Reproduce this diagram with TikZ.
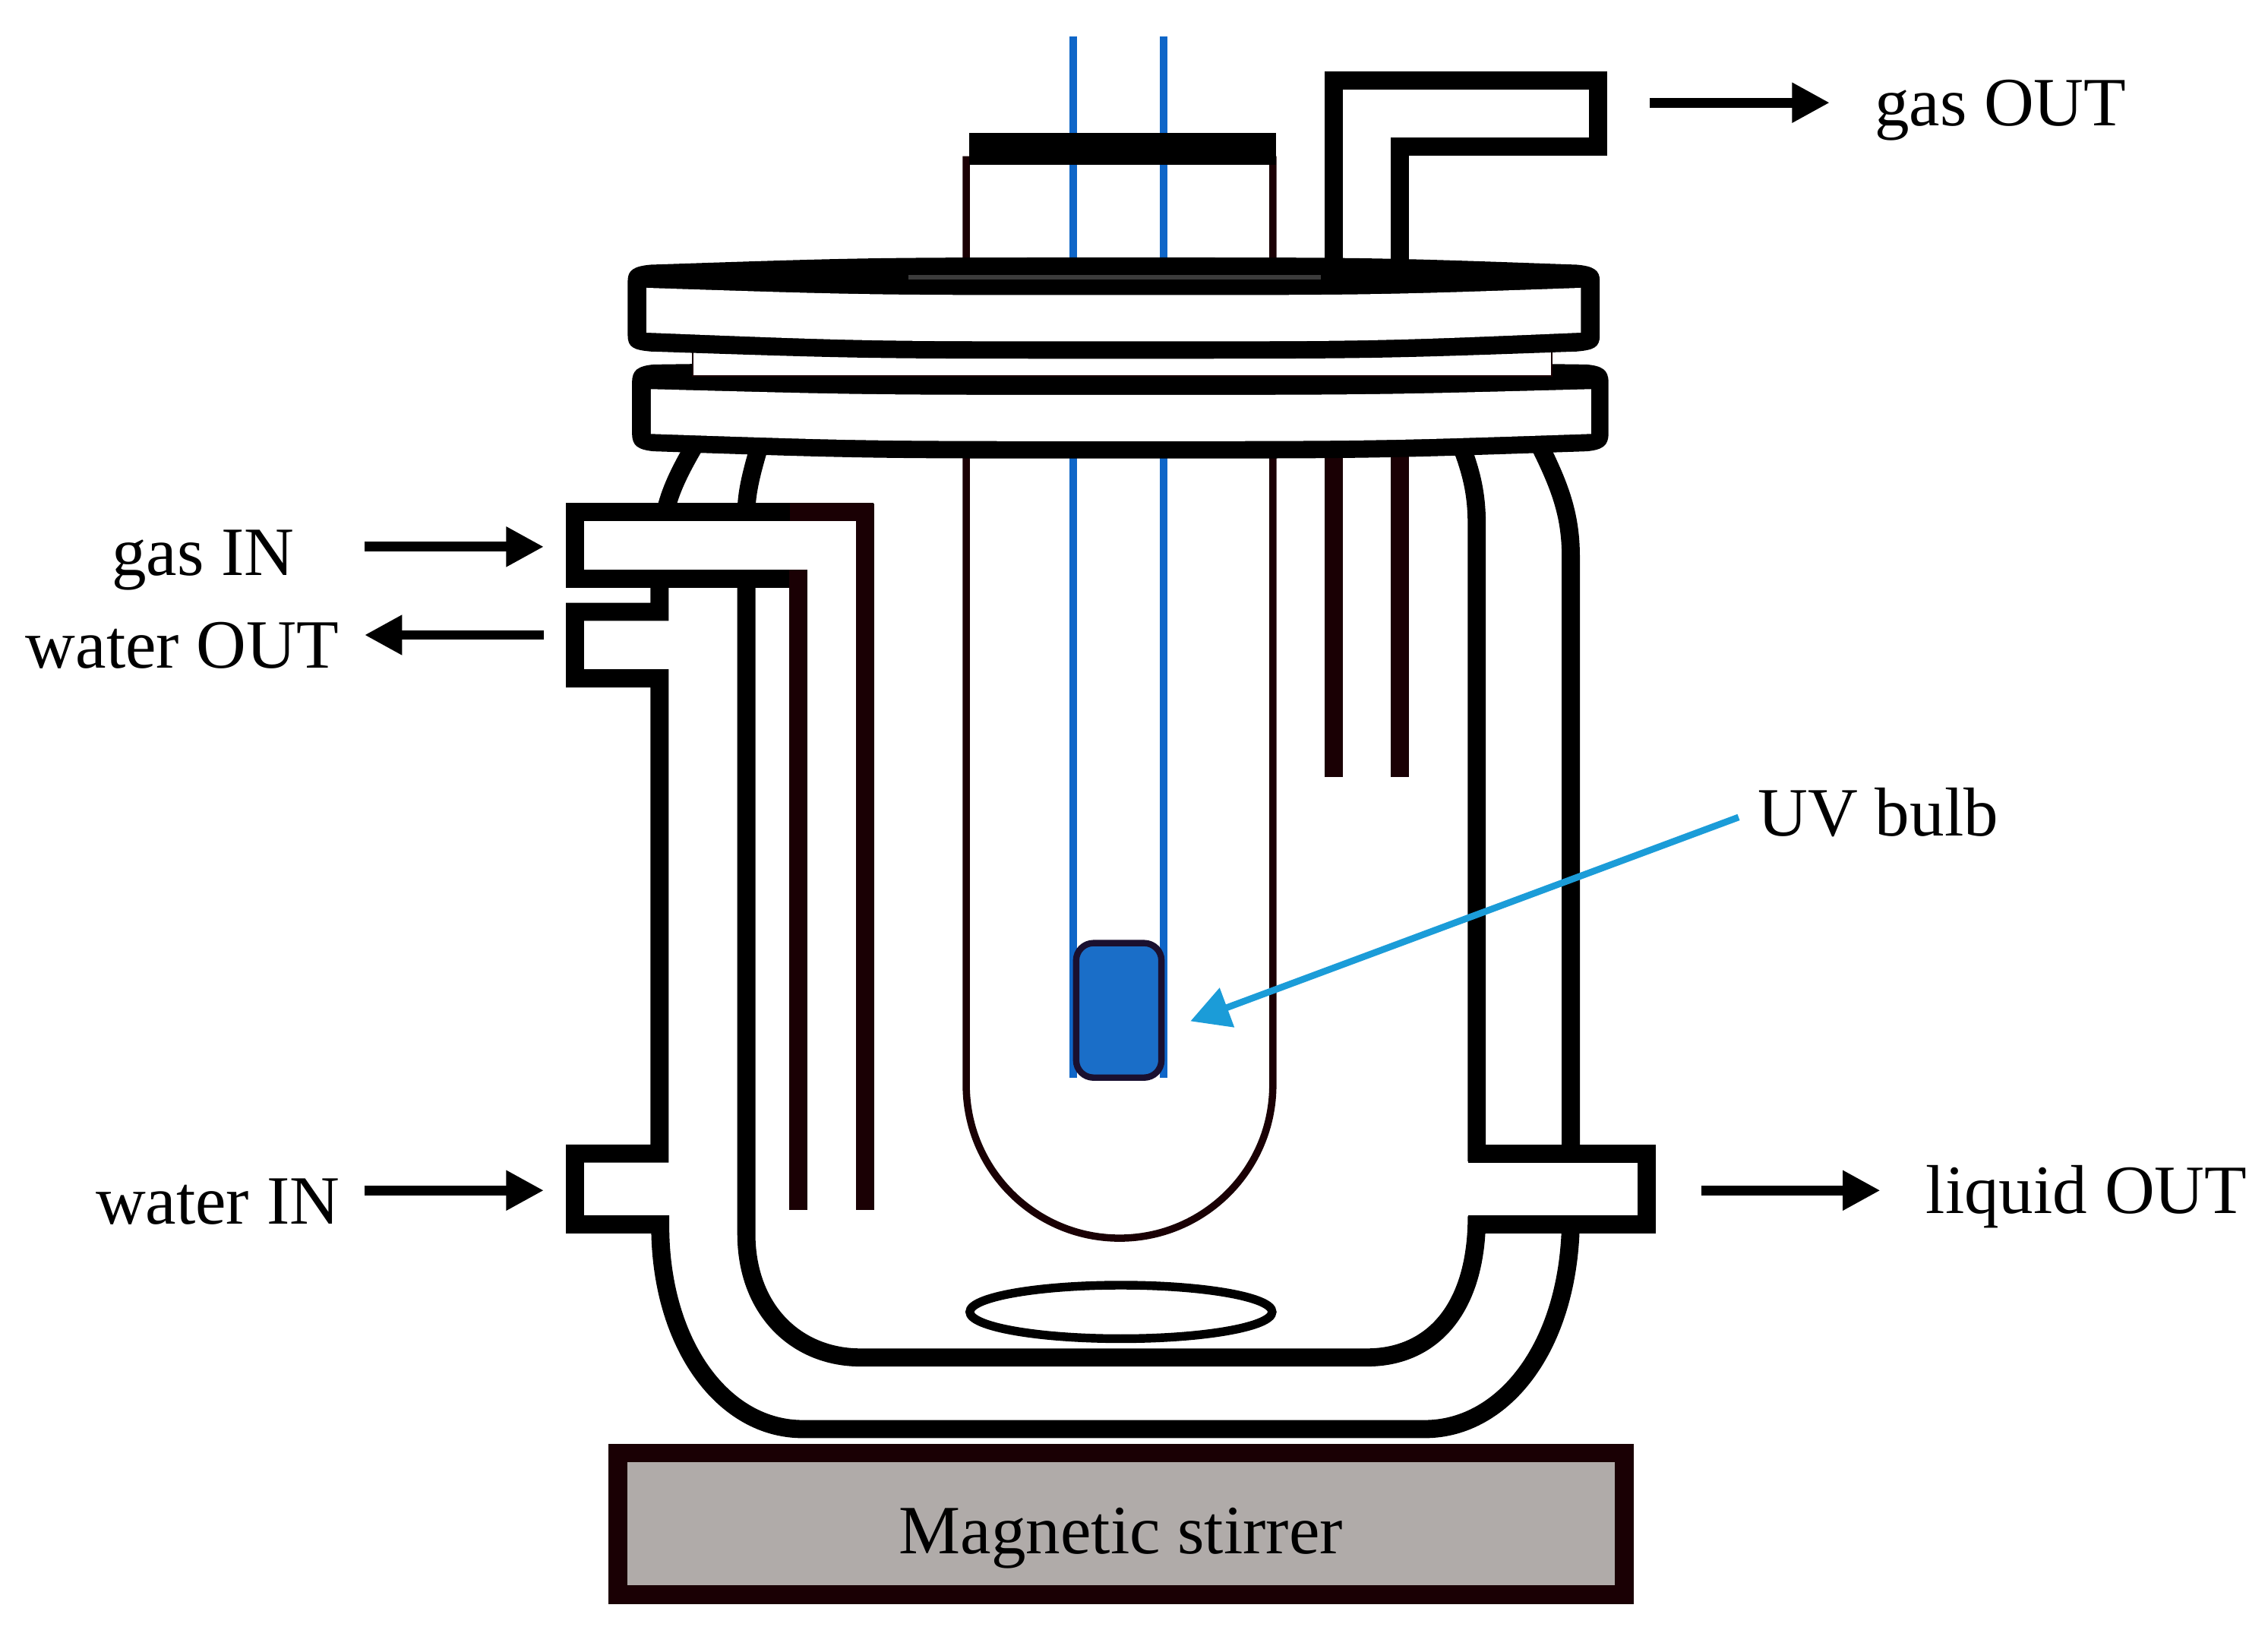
\documentclass[tikz,border=0pt]{standalone}
\usepackage{fontspec}
\setmainfont{Liberation Serif}
\usetikzlibrary{arrows.meta}
\definecolor{colwall}{HTML}{1A0004}
\definecolor{colblue}{HTML}{0F66C8}
\definecolor{colbulb}{HTML}{1A6EC8}
\definecolor{coledge}{HTML}{1A1030}
\definecolor{coluv}{HTML}{1B9CD8}
\definecolor{colbase}{HTML}{B0ABA9}
\definecolor{colstripe}{HTML}{3C3C3C}
\tikzset{
  wall/.style={line width=1.25mm,line join=miter,black},
  darkwall/.style={line width=1.25mm,colwall},
  thinwall/.style={line width=0.5mm,colwall},
  wire/.style={line width=0.5mm,colblue},
  flow/.style={line width=0.67mm,black,-{Triangle[length=2.6mm,width=2.6mm]}},
  uvflow/.style={line width=0.46mm,coluv,-{Triangle[length=2.7mm,width=2.8mm]}},
  lab/.style={anchor=base,inner sep=0pt,font=\fontsize{13.6}{16}\selectfont},
}
\begin{document}
\begin{tikzpicture}[x=0.01cm,y=-0.01cm]
  \useasboundingbox (0,0) rectangle (1568,1126.4);
  % blue wires
  \draw[wire] (742,25) -- (742,745);
  \draw[wire] (804.5,25) -- (804.5,745);
  % test tube with bulb
  \draw[thinwall] (668,108) -- (668,750) arc[start angle=180,end angle=0,radius=106] -- (880,108);
  \draw[line width=0.44mm,coledge,fill=colbulb,rounded corners=1.2mm] (744,652) rectangle (803,745);
  \fill[black] (670,92) rectangle (882,114);
  % gas out tube
  \draw[darkwall] (922,537) -- (922,100);
  \draw[darkwall] (968,537) -- (968,102);
  \draw[wall] (922,190) -- (922,55.5) -- (1105,55.5) -- (1105,101.5) -- (968,101.5) -- (968,190);
  % outer jacket
  \draw[wall] (456,406) -- (456,423) -- (397.5,423) -- (397.5,469) -- (456,469) -- (456,797.5)
    -- (397.5,797.5) -- (397.5,846.5) -- (456.5,846.5) -- (456.5,852)
    .. controls (458,930) and (500,988) .. (555,988) -- (985,988)
    .. controls (1040,988) and (1086,930) .. (1086,841);
  \draw[wall] (482,305) .. controls (470,325) and (463,340) .. (460,354);
  \draw[wall] (1063,305) .. controls (1078,335) and (1086,355) .. (1086,385) -- (1086,797.5);
  % inner vessel
  \draw[wall] (526,305) .. controls (520,325) and (516,340) .. (516,354) -- (516,853)
    .. controls (516,905) and (550,938.5) .. (595,938.5) -- (945,938.5)
    .. controls (990,938.5) and (1021,905) .. (1021,841);
  \draw[wall] (1009,305) .. controls (1019,330) and (1021,345) .. (1021,365) -- (1021,803);
  % liquid out port
  \draw[wall] (1015,797.5) -- (1138.5,797.5) -- (1138.5,846.5) -- (1015,846.5);
  % gas in tube
  \fill[white] (404,360) rectangle (592,394);
  \draw[wall] (552,400) -- (397.5,400) -- (397.5,354) -- (598,354);
  \draw[darkwall] (552,836.5) -- (552,394);
  \draw[darkwall] (598,836.5) -- (598,348);
  \draw[darkwall] (546,400) -- (558,400);
  \draw[darkwall] (546,354) -- (604,354);
  % lower flange
  \fill[black] (437,264) .. controls (437,256) and (441,253) .. (452,252) .. controls (600,250) .. (775,250)
    .. controls (950,250) .. (1097,252) .. controls (1108,253) and (1112,256) .. (1112,264) -- (1112,300)
    .. controls (1112,308) and (1108,311) .. (1097,312) .. controls (950,317) .. (775,317)
    .. controls (600,317) .. (452,312) .. controls (441,311) and (437,308) .. (437,300) -- cycle;
  \fill[white] (450,269) .. controls (600,273) .. (775,273) .. controls (950,273) .. (1100,269)
    -- (1100,300) .. controls (950,305) .. (775,305) .. controls (600,305) .. (450,300) -- cycle;
  % gasket
  \draw[line width=0.1mm,colwall,fill=white] (479,243) rectangle (1073,260);
  % upper flange
  \fill[black] (434,194) .. controls (434,187) and (438,184) .. (450,183) .. controls (600,178) .. (775,178)
    .. controls (950,178) .. (1090,183) .. controls (1102,184) and (1106,187) .. (1106,194) -- (1106,232)
    .. controls (1106,240) and (1102,242) .. (1090,243) .. controls (950,248) .. (775,248)
    .. controls (600,248) .. (450,243) .. controls (438,242) and (434,240) .. (434,232) -- cycle;
  \fill[white] (447,199) .. controls (600,204) .. (775,204) .. controls (950,204) .. (1093,199)
    -- (1093,230) .. controls (950,236) .. (775,236) .. controls (600,236) .. (447,230) -- cycle;
  \fill[colstripe] (628,190) rectangle (913,193.5);
  % stir bar
  \draw[line width=0.6mm,black] (775,907) ellipse [x radius=104.5,y radius=18.5];
  % magnetic stirrer base
  \draw[line width=1.3mm,colwall,fill=colbase] (427,1004.5) rectangle (1123,1102.5);
  % labels
  \node[lab] (stirrer) at (775,1074) {Magnetic stirrer};
  \node[lab] (gasout) at (1383,87) {gas OUT};
  \node[lab] (uvbulb) at (1298.5,578) {UV bulb};
  \node[lab] (gasin) at (140.5,398) {gas IN};
  \node[lab] (waterout) at (126,462) {water OUT};
  \node[lab] (waterin) at (150.5,846) {water IN};
  \node[lab] (liquidout) at (1442.5,839) {liquid OUT};
  % arrow ends
  \coordinate (a1) at (1140.5,71);   \coordinate (a2) at (1265,71);
  \coordinate (b1) at (252,378);     \coordinate (b2) at (376,378);
  \coordinate (c1) at (376,439);     \coordinate (c2) at (252,439);
  \coordinate (d1) at (252,823);     \coordinate (d2) at (376,823);
  \coordinate (e1) at (1176,823);    \coordinate (e2) at (1300,823);
  \coordinate (f1) at (1202,565);    \coordinate (f2) at (823,706);
  \draw[flow] (a1) -- (a2);
  \draw[flow] (b1) -- (b2);
  \draw[flow] (c1) -- (c2);
  \draw[flow] (d1) -- (d2);
  \draw[flow] (e1) -- (e2);
  \draw[uvflow] (f1) -- (f2);
\end{tikzpicture}
\end{document}
